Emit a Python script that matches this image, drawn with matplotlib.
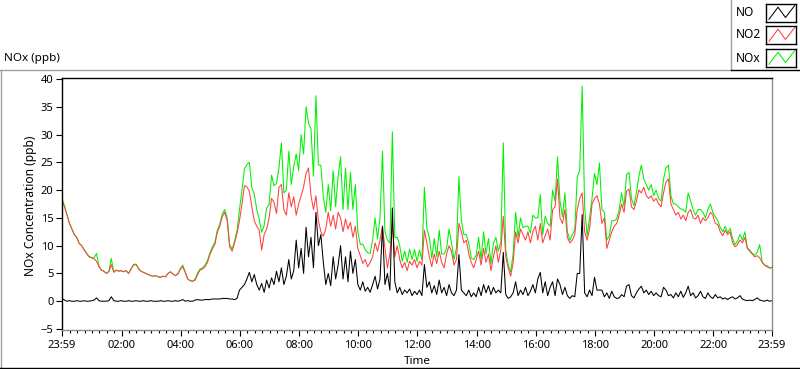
import numpy as np
import matplotlib.pyplot as plt
from matplotlib.lines import Line2D

plt.rcParams['font.family'] = ['Noto Sans', 'DejaVu Sans']
plt.rcParams['font.size'] = 8.0

# readings every 5 minutes from 23:59, one row per hour (ppb)
no2 = [18.0, 17.0, 15.6, 14.0, 13.0, 12.0, 11.4, 10.4, 10.0, 9.2, 8.6, 8.0,
       7.8, 7.6, 7.2, 6.2, 5.6, 5.4, 5.0, 5.3, 6.6, 5.2, 5.6, 5.4,
       5.5, 5.3, 5.5, 5.0, 5.8, 6.5, 6.6, 5.9, 5.4, 5.2, 5.0, 4.8,
       4.6, 4.5, 4.6, 4.4, 4.3, 4.5, 4.4, 5.0, 5.3, 4.9, 4.6, 4.9,
       5.8, 6.2, 5.2, 4.0, 3.7, 3.6, 3.8, 4.8, 5.6, 5.8, 6.2, 7.0,
       8.4, 9.4, 10.2, 12.4, 13.5, 15.2, 16.0, 14.5, 9.8, 9.0, 10.5, 12.2,
       14.5, 17.5, 20.8, 20.6, 19.8, 17.0, 14.5, 13.5, 12.8, 9.2, 12.0, 13.0,
       15.0, 18.5, 17.8, 15.8, 20.5, 21.0, 16.5, 15.5, 19.5, 17.0, 18.8, 15.5,
       17.5, 19.0, 20.6, 23.0, 24.0, 19.0, 16.5, 19.0, 14.5, 12.5, 11.7, 13.0,
       16.0, 13.5, 15.5, 13.0, 16.0, 15.0, 12.5, 14.8, 13.0, 14.2, 11.5, 13.5,
       9.5, 8.2, 6.8, 7.5, 6.2, 7.0, 8.0, 10.5, 9.0, 11.0, 13.5, 9.5,
       6.0, 8.5, 13.7, 8.0, 10.0, 7.5, 6.0, 7.0, 5.5, 7.2, 6.5, 7.5,
       6.0, 7.2, 6.5, 12.8, 10.5, 8.0, 6.2, 8.5, 6.8, 9.0, 7.0, 6.0,
       8.5, 10.0, 9.0, 6.5, 7.5, 14.0, 12.5, 10.5, 11.0, 8.5, 7.0, 6.0,
       7.5, 9.0, 6.5, 9.5, 7.0, 8.5, 5.5, 8.0, 10.0, 7.0, 9.2, 15.3,
       8.0, 6.0, 4.5, 7.0, 12.5, 10.5, 13.0, 12.0, 11.0, 12.5, 10.5, 12.5,
       13.5, 11.0, 14.0, 10.5, 11.8, 13.0, 11.0, 16.5, 17.0, 22.0, 15.0, 14.0,
       16.5, 11.5, 10.5, 11.0, 12.0, 16.5, 18.5, 19.5, 12.5, 11.0, 13.0, 17.5,
       18.5, 19.0, 17.5, 14.0, 15.0, 9.5, 11.0, 12.5, 13.5, 14.0, 15.5, 17.5,
       16.0, 19.8, 20.2, 17.0, 16.5, 18.0, 20.0, 19.5, 20.5, 19.0, 18.5, 19.0,
       18.0, 18.5, 17.5, 17.0, 19.5, 21.5, 22.0, 17.5, 16.5, 15.5, 16.0, 14.8,
       15.5, 14.5, 16.0, 16.5, 15.0, 14.8, 15.5, 14.0, 15.0, 14.5, 15.0, 16.0,
       15.5, 14.0, 13.8, 12.5, 11.8, 12.8, 12.0, 12.5, 10.5, 9.8, 10.2, 11.0,
       10.5, 11.5, 9.5, 9.0, 8.5, 8.0, 8.2, 7.8, 7.0, 6.5, 6.2, 6.0,
       6.0]

no = [0.5, 0.2, 0.0, 0.1, 0.0, 0.0, 0.1, 0.0, 0.0, 0.1, 0.0, 0.0,
      0.1, 0.2, 0.6, 0.1, 0.0, 0.0, 0.0, 0.1, 0.8, 0.1, 0.0, 0.0,
      0.1, 0.0, 0.0, 0.1, 0.0, 0.0, 0.1, 0.0, 0.0, 0.1, 0.0, 0.0,
      0.1, 0.0, 0.0, 0.0, 0.1, 0.0, 0.0, 0.1, 0.0, 0.0, 0.1, 0.0,
      0.1, 0.3, 0.0, 0.1, 0.0, 0.0, 0.2, 0.3, 0.2, 0.2, 0.3, 0.3,
      0.3, 0.4, 0.4, 0.4, 0.4, 0.5, 0.5, 0.5, 0.4, 0.4, 0.3, 0.5,
      2.0, 2.5, 3.0, 4.0, 5.2, 3.5, 4.8, 3.0, 2.0, 3.2, 1.6, 3.8,
      2.4, 4.2, 3.0, 5.4, 3.5, 6.0, 3.0, 4.5, 7.5, 4.0, 5.5, 11.0,
      6.0, 9.5, 5.0, 13.3, 8.0, 11.5, 6.0, 16.0, 10.0, 12.0, 7.0, 3.0,
      5.0, 2.8, 8.0, 4.0, 6.5, 10.0, 4.0, 8.0, 3.5, 9.0, 5.0, 7.5,
      3.0, 2.0, 3.5, 1.8, 2.5, 1.6, 3.0, 4.5, 2.2, 4.0, 13.5, 3.0,
      5.0, 2.0, 16.8, 3.5, 1.5, 2.5, 1.2, 2.0, 1.5, 2.2, 1.0, 1.8,
      1.2, 2.0, 1.0, 6.6, 2.5, 3.5, 1.5, 2.8, 1.2, 3.8, 1.5, 2.5,
      1.0, 3.0, 1.5, 1.0, 2.0, 8.4, 2.0, 1.5, 1.0, 2.0, 0.8, 1.5,
      0.8, 2.5, 1.0, 3.0, 1.5, 2.8, 1.2, 2.5, 1.5, 2.0, 1.5, 8.8,
      1.2, 0.5, 0.8, 1.5, 3.5, 1.0, 2.0, 1.2, 2.5, 1.0, 1.8, 3.0,
      1.5, 4.0, 5.2, 1.5, 3.5, 1.0, 2.5, 3.5, 1.0, 4.0, 3.0, 1.2,
      2.5, 1.0, 0.5, 1.0, 0.8, 5.0, 5.0, 15.6, 1.5, 0.8, 2.0, 1.0,
      4.3, 2.0, 2.0, 2.0, 0.8, 1.5, 0.5, 1.8, 0.8, 0.5, 0.6, 1.2,
      0.8, 2.7, 3.0, 1.0, 0.6, 1.5, 2.2, 2.7, 1.5, 2.0, 1.2, 1.8,
      1.0, 1.5, 1.0, 0.8, 2.5, 2.0, 1.0, 1.2, 0.6, 1.5, 0.8, 1.8,
      0.7, 1.5, 2.7, 1.0, 1.5, 0.6, 1.0, 1.8, 0.8, 0.5, 1.5, 0.8,
      0.5, 1.2, 0.6, 0.8, 0.4, 0.6, 0.3, 0.6, 0.8, 0.4, 0.6, 1.0,
      0.4, 0.2, 0.1, 0.2, 0.1, 0.3, 0.6, 0.2, 0.1, 0.0, 0.2, 0.0,
      0.1]

nox = [18.5, 17.2, 15.6, 14.1, 13.0, 12.0, 11.5, 10.4, 10.0, 9.3, 8.6, 8.0,
       7.9, 7.8, 8.6, 6.3, 5.6, 5.4, 5.0, 5.4, 7.7, 5.3, 5.6, 5.4,
       5.5, 5.3, 5.5, 5.0, 5.8, 6.6, 6.7, 5.9, 5.4, 5.2, 5.0, 4.8,
       4.6, 4.5, 4.6, 4.4, 4.3, 4.5, 4.4, 5.0, 5.3, 4.9, 4.6, 4.9,
       5.9, 6.5, 5.2, 4.0, 3.7, 3.6, 4.0, 5.1, 5.8, 6.0, 6.5, 7.3,
       8.7, 9.8, 10.6, 12.8, 13.9, 15.7, 16.5, 15.0, 10.2, 9.4, 10.8, 12.7,
       16.5, 20.0, 23.8, 24.6, 25.0, 20.5, 19.3, 16.5, 14.8, 12.4, 13.6, 16.8,
       17.4, 22.7, 20.8, 21.2, 24.0, 28.5, 19.5, 20.0, 27.0, 21.0, 24.3, 26.5,
       23.5, 30.0, 26.5, 35.0, 32.0, 31.0, 22.5, 37.0, 24.5, 24.5, 18.7, 16.0,
       21.0, 16.3, 23.5, 17.0, 22.5, 26.0, 16.5, 24.0, 16.5, 23.2, 16.5, 21.0,
       12.5, 10.2, 10.3, 9.3, 8.7, 8.6, 11.0, 15.0, 11.2, 15.0, 27.0, 12.5,
       11.0, 10.5, 30.5, 11.5, 11.5, 10.0, 7.2, 9.0, 7.0, 9.4, 7.5, 9.3,
       7.2, 9.2, 7.5, 20.5, 13.0, 11.5, 7.7, 11.3, 8.0, 12.8, 8.5, 8.5,
       9.5, 13.0, 10.5, 7.5, 9.5, 22.4, 14.5, 12.0, 12.0, 10.5, 7.8, 7.5,
       8.3, 11.5, 7.5, 12.5, 8.5, 11.3, 6.7, 10.5, 11.5, 9.0, 10.7, 28.5,
       9.2, 6.5, 5.3, 8.5, 16.0, 11.5, 15.0, 13.2, 13.5, 13.5, 12.3, 15.5,
       15.0, 15.0, 19.2, 12.0, 15.3, 14.0, 13.5, 20.0, 18.0, 26.0, 18.0, 15.2,
       19.5, 12.5, 11.0, 12.0, 12.8, 22.4, 23.5, 38.7, 17.0, 11.8, 15.0, 18.5,
       23.0, 21.0, 24.9, 16.5, 16.0, 11.0, 11.8, 14.5, 14.5, 14.8, 16.5, 19.5,
       17.0, 22.8, 23.2, 18.5, 17.2, 19.5, 22.5, 24.5, 22.0, 21.0, 20.0, 21.0,
       19.0, 20.0, 18.5, 18.0, 22.0, 24.0, 24.5, 19.0, 17.5, 17.5, 17.0, 16.6,
       16.5, 16.0, 19.5, 18.0, 16.5, 15.5, 16.5, 16.5, 16.0, 15.0, 16.5, 17.5,
       16.0, 15.2, 14.5, 13.3, 12.5, 13.5, 12.3, 13.1, 11.3, 10.2, 10.8, 12.0,
       11.0, 12.5, 9.6, 9.2, 8.6, 8.3, 8.8, 10.2, 7.1, 6.5, 6.4, 6.0,
       6.1]

tick_labels = ['23:59', '02:00', '04:00', '06:00', '08:00', '10:00', '12:00',
               '14:00', '16:00', '18:00', '20:00', '22:00', '23:59']
tick_minutes = [0, 121, 241, 361, 481, 601, 721, 841, 961, 1081, 1201, 1321, 1440]

series = [('NO', no, 'black'), ('NO2', no2, '#ff4040'), ('NOx', nox, '#00f000')]

t = np.arange(len(no2)) * 5

W, H = 800, 369
fig = plt.figure(figsize=(W / 100, H / 100), dpi=100)

def px(x, y):
    return x / W, 1 - y / H

ax = fig.add_axes([62 / W, 39 / H, 710 / W, 252 / H])
for name, vals, col in series[::-1]:
    ax.plot(t, vals, color=col, lw=0.75)

ax.set_xlim(0, 1440)
ax.set_ylim(-5.18, 40.18)
ax.set_yticks(range(-5, 45, 5))
ax.set_xticks(tick_minutes)
ax.set_xticklabels(tick_labels)
ax.set_xticks(np.arange(16, 1440, 15), minor=True)
ax.tick_params(axis='both', which='major', length=4.3, width=0.8, direction='out', pad=1.8)
ax.tick_params(axis='x', which='major', pad=3)
ax.tick_params(axis='x', which='minor', length=2.5, width=0.8)
for s in ['left', 'top']:
    ax.spines[s].set_color('black')
    ax.spines[s].set_linewidth(1.0)
for s in ['right', 'bottom']:
    ax.spines[s].set_color('#8c8c8c')
    ax.spines[s].set_linewidth(1.0)

fig.text(*px(31, 206), 'NOx Concentration (ppb)', rotation=90, ha='center', va='center', fontsize=8.6)
fig.text(*px(417, 361), 'Time', ha='center', va='center', fontsize=8.4)
fig.text(*px(4, 58), 'NOx (ppb)', ha='left', va='center', fontsize=8.4)

# panel frame lines
def fline(x0, y0, x1, y1, col, lw=1.0):
    (a, b), (c, d) = px(x0, y0), px(x1, y1)
    fig.add_artist(Line2D([a, c], [b, d], color=col, lw=lw, transform=fig.transFigure))

fline(0, 69.5, 730, 69.5, '#a0a0a0')
fline(0.7, 69.5, 0.7, 368, '#a0a0a0')
fline(0, 367.5, 800, 367.5, 'black')
fline(730.5, 0, 730.5, 70, '#a0a0a0')
fline(730.5, 70, 800, 70, 'black')

# legend
rows = [13, 35, 58]
for (name, vals, col), yc in zip(series, rows):
    fig.text(*px(736, yc), name, ha='left', va='center', fontsize=8.6)
    lax = fig.add_axes([766 / W, 1 - (yc + 9) / H, 30 / W, 18 / H])
    lax.set_xlim(0, 1)
    lax.set_ylim(0, 1)
    lax.plot([0.1, 0.4, 0.65, 0.95], [0.15, 0.82, 0.25, 0.9], color=col, lw=0.75)
    lax.set_xticks([])
    lax.set_yticks([])
    for s in lax.spines.values():
        s.set_linewidth(1.0)
        s.set_color('black')

fig.savefig('out.png', dpi=100)
